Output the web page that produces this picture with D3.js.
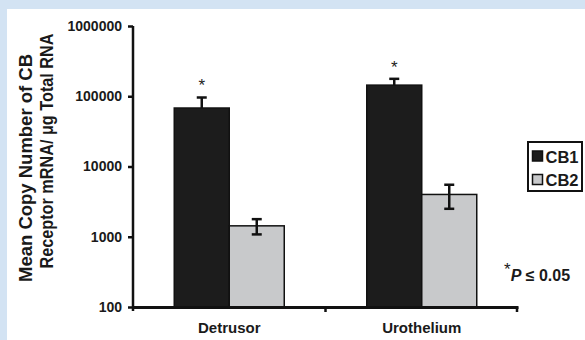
<!DOCTYPE html>
<html>
<head>
<meta charset="utf-8">
<script src="https://cdn.jsdelivr.net/npm/d3@7"></script>
<style>
  html, body { margin: 0; padding: 0; }
  body { width: 585px; height: 340px; overflow: hidden; background: #d3e3f3; }
  svg { display: block; font-family: Arial, "Liberation Sans", Helvetica, sans-serif; }
</style>
</head>
<body>
<div id="chart"></div>
<script>
// data
const tissues = ["Detrusor", "Urothelium"];
const receptors = ["CB1", "CB2"];
const meanCopies = {
    CB1: [68000, 144000],
    CB2: [1430, 4000]
};
const semCopies = {
    CB1: [28000, 33000],
    CB2: [350, 1500]
};
const significant = {
    CB1: [true, true],
    CB2: [false, false]
};
const yTicks = [100, 1000, 10000, 100000, 1000000];
const yTitleLines = ["Mean Copy Number of CB", "Receptor mRNA/ \u03bcg Total RNA"];

const width = 585, height = 340;
const margin = {top: 26, right: 67, bottom: 33, left: 133};

const svg = d3.select("#chart")
    .append("svg")
    .attr("width", width)
    .attr("height", height);

// white slide panel, the blue strip shows at top and left
svg.append("rect")
    .attr("x", 7)
    .attr("y", 9)
    .attr("width", width - 7)
    .attr("height", height - 9)
    .attr("fill", "#ffffff");

const x = d3.scaleBand()
    .domain(tissues)
    .range([margin.left, width - margin.right])
    .paddingInner(0)
    .paddingOuter(0);

const xInner = d3.scaleBand()
    .domain(receptors)
    .range([0, x.bandwidth()])
    .paddingOuter(0.75)
    .paddingInner(0);

const y = d3.scaleLog()
    .domain([100, 1000000])
    .range([height - margin.bottom, margin.top]);

const colors = {CB1: "#1c1c1c", CB2: "#c8c9cb"};

// bars
const rows = [];
receptors.forEach(r => {
    tissues.forEach((t, i) => {
        rows.push({
            tissue: t,
            receptor: r,
            mean: meanCopies[r][i],
            sem: semCopies[r][i],
            star: significant[r][i]
        });
    });
});

const bars = svg.append("g");
bars.selectAll("rect")
    .data(rows)
    .enter().append("rect")
    .attr("x", d => x(d.tissue) + xInner(d.receptor))
    .attr("y", d => y(d.mean))
    .attr("width", xInner.bandwidth())
    .attr("height", d => y(100) - y(d.mean))
    .attr("fill", d => colors[d.receptor])
    .attr("stroke", "#111")
    .attr("stroke-width", 1.5);

// error bars
const err = svg.append("g")
    .attr("stroke", "#111")
    .attr("stroke-width", 2.5);

rows.forEach(d => {
    const cx = x(d.tissue) + xInner(d.receptor) + xInner.bandwidth() / 2;
    const top = y(d.mean + d.sem);
    const bottom = d.receptor === "CB1" ? y(d.mean) : y(d.mean - d.sem);
    err.append("line")
        .attr("x1", cx).attr("x2", cx)
        .attr("y1", top).attr("y2", bottom);
    err.append("line")
        .attr("x1", cx - 5).attr("x2", cx + 5)
        .attr("y1", top).attr("y2", top);
    if (d.receptor === "CB2") {
        err.append("line")
            .attr("x1", cx - 5).attr("x2", cx + 5)
            .attr("y1", bottom).attr("y2", bottom);
    }
    if (d.star) {
        svg.append("text")
            .attr("x", cx)
            .attr("y", top - 6)
            .attr("text-anchor", "middle")
            .style("font-size", "17px")
            .style("fill", "#222")
            .text("*");
    }
});

// y axis
const yAxis = d3.axisLeft(y)
    .tickValues(yTicks)
    .tickFormat(d3.format("d"))
    .tickSize(5)
    .tickPadding(6);

const gy = svg.append("g")
    .attr("transform", `translate(${margin.left},0)`)
    .call(yAxis);
gy.select(".domain")
    .attr("d", `M0,${y(1000000)}V${y(100) + 4}`)
    .attr("stroke", "#111")
    .attr("stroke-width", 2.5);
gy.selectAll(".tick line").attr("stroke", "#111").attr("stroke-width", 2.5);
gy.selectAll(".tick text")
    .style("font-size", "14px")
    .style("font-weight", "bold")
    .style("fill", "#1a1a1a");

// x axis
const xAxis = d3.axisBottom(x)
    .tickSize(0)
    .tickPadding(15);

const gx = svg.append("g")
    .attr("transform", `translate(0,${y(100)})`)
    .call(xAxis);
gx.select(".domain")
    .attr("stroke", "#111")
    .attr("stroke-width", 3);
gx.selectAll(".tick text")
    .style("font-size", "15px")
    .style("font-weight", "bold")
    .style("fill", "#1a1a1a");

// category boundary ticks
gx.selectAll(".bound")
    .data(tissues.slice(1).map(t => x(t)).concat([x.range()[1] - 1]))
    .enter().append("line")
    .attr("class", "bound")
    .attr("x1", d => d).attr("x2", d => d)
    .attr("y1", 0).attr("y2", 5)
    .attr("stroke", "#111")
    .attr("stroke-width", 2.5);

// y axis title
const yTitle = svg.append("text")
    .attr("transform", "rotate(-90)")
    .style("font-size", "18px")
    .style("font-weight", "bold")
    .style("fill", "#1a1a1a")
    .attr("text-anchor", "middle");
yTitle.append("tspan")
    .attr("x", -168)
    .attr("y", 32)
    .attr("textLength", 228)
    .attr("lengthAdjust", "spacingAndGlyphs")
    .text(yTitleLines[0]);
yTitle.append("tspan")
    .attr("x", -151)
    .attr("y", 53)
    .attr("textLength", 235)
    .attr("lengthAdjust", "spacingAndGlyphs")
    .text(yTitleLines[1]);

// legend
const legend = svg.append("g").attr("transform", "translate(528,142)");
legend.append("rect")
    .attr("width", 54)
    .attr("height", 49)
    .attr("fill", "#fff")
    .attr("stroke", "#111")
    .attr("stroke-width", 2);
receptors.forEach((r, i) => {
    legend.append("rect")
        .attr("x", 4.5)
        .attr("y", 9 + i * 23.5)
        .attr("width", 10)
        .attr("height", 10)
        .attr("fill", colors[r])
        .attr("stroke", "#111")
        .attr("stroke-width", 1.5);
    legend.append("text")
        .attr("x", 17.5)
        .attr("y", 20.5 + i * 23.5)
        .style("font-size", "16.5px")
        .style("font-weight", "bold")
        .style("fill", "#1a1a1a")
        .text(r);
});

// significance note
const note = svg.append("text")
    .attr("x", 504)
    .attr("y", 281)
    .style("font-size", "16px")
    .style("font-weight", "bold")
    .style("fill", "#1a1a1a");
note.append("tspan")
    .attr("dy", -6)
    .style("font-size", "17px")
    .style("font-weight", "normal")
    .text("*");
note.append("tspan")
    .attr("dy", 6)
    .style("font-style", "italic")
    .text("P");
note.append("tspan")
    .text(" \u2264 0.05");
</script>
</body>
</html>
